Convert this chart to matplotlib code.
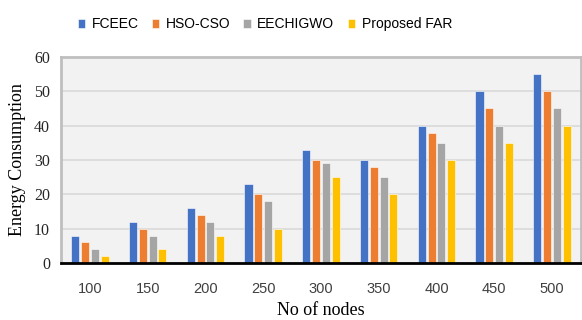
import matplotlib
matplotlib.use("Agg")
import matplotlib.pyplot as plt
import numpy as np

categories = ["100", "150", "200", "250", "300", "350", "400", "450", "500"]
series_names = ["FCEEC", "HSO-CSO", "EECHIGWO", "Proposed FAR"]
fceec = [8, 12, 16, 23, 33, 30, 40, 50, 55]
hso_cso = [6, 10, 14, 20, 30, 28, 38, 45, 50]
eechigwo = [4, 8, 12, 18, 29, 25, 35, 40, 45]
proposed_far = [2, 4, 8, 10, 25, 20, 30, 35, 40]
colors = ["#4472C4", "#ED7D31", "#A5A5A5", "#FFC000"]
y_ticks = [0, 10, 20, 30, 40, 50, 60]

fig = plt.figure(figsize=(5.82, 3.2), dpi=100)
ax = fig.add_axes([0.105, 0.178, 0.893, 0.644])
ax.set_facecolor("#F2F2F2")

x = np.arange(len(categories))
width = 0.14
step = 0.17
for i, (name, vals, c) in enumerate(zip(series_names, [fceec, hso_cso, eechigwo, proposed_far], colors)):
    ax.bar(x + (i - 1.5) * step, vals, width, color=c, label=name,
           edgecolor="#FFFFFF", linewidth=0.4, zorder=3)

ax.set_xlim(-0.5, len(categories) - 0.5)
ax.set_ylim(0, 60)
ax.set_yticks(y_ticks)
ax.set_xticks(x)
ax.set_xticklabels(categories, fontfamily="Liberation Sans", fontsize=10.5, color="#404040")
ax.set_yticklabels([str(t) for t in y_ticks], fontfamily="Liberation Serif", fontsize=11.5, color="#262626")
ax.tick_params(axis="both", length=0)
ax.tick_params(axis="x", pad=14)
ax.tick_params(axis="y", pad=8)
ax.yaxis.grid(True, color="#D9D9D9", linewidth=1.2, zorder=0)
ax.set_axisbelow(True)

for side in ["top", "left", "right"]:
    ax.spines[side].set_color("#BFBFBF")
    ax.spines[side].set_linewidth(2)
ax.spines["bottom"].set_color("#000000")
ax.spines["bottom"].set_linewidth(2)
ax.spines["bottom"].set_zorder(4)

ax.set_ylabel("Energy Consumption", fontfamily="Liberation Serif", fontsize=13, labelpad=6)
ax.set_xlabel("No of nodes", fontfamily="Liberation Serif", fontsize=13, labelpad=4)

fig.legend(loc="upper center", bbox_to_anchor=(0.455, 0.985), ncol=4, frameon=False,
           prop={"family": "Liberation Sans", "size": 10}, handlelength=0.55,
           handleheight=0.55, handletextpad=0.45, columnspacing=0.95)

fig.savefig("out.png", dpi=100)
